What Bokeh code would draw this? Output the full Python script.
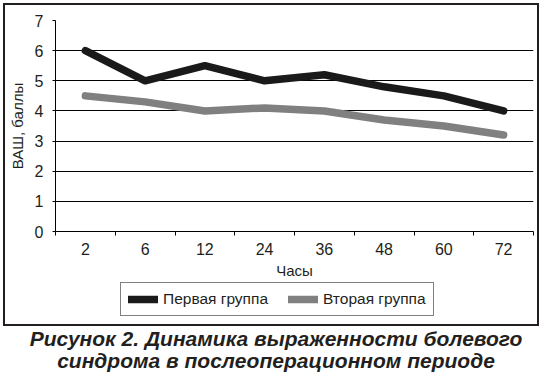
from bokeh.plotting import figure
from bokeh.models import (ColumnDataSource, FixedTicker, Legend, LegendItem, Range1d, Div)
from bokeh.layouts import column
from bokeh.embed import file_html
from bokeh.resources import INLINE

hours = ["2", "6", "12", "24", "36", "48", "60", "72"]
group1 = [6.0, 5.0, 5.5, 5.0, 5.2, 4.8, 4.5, 4.0]
group2 = [4.5, 4.3, 4.0, 4.1, 4.0, 3.7, 3.5, 3.2]
y_ticks = [0, 1, 2, 3, 4, 5, 6, 7]
series_names = ["Первая группа", "Вторая группа"]
y_label = "ВАШ, баллы"
x_label = "Часы"
caption = ["Рисунок 2. Динамика выраженности болевого",
           "синдрома в послеоперационном периоде"]

FONT = "Liberation Sans"
TXT = "#231f20"
C1, C2 = "#1a1a1a", "#808080"
LW = 7.5

x = [i + 0.5 for i in range(len(hours))]
src = ColumnDataSource(dict(x=x, g1=group1, g2=group2))

# ---- main chart ----
p = figure(width=532, height=276,
           x_range=Range1d(0, len(hours)), y_range=Range1d(y_ticks[0], y_ticks[-1]),
           output_backend="svg", toolbar_location=None,
           min_border_left=45, min_border_right=4, min_border_top=15, min_border_bottom=49)
p.outline_line_color = None
p.background_fill_color = "white"
p.border_fill_color = "white"

p.line("x", "g1", source=src, line_color=C1, line_width=LW, line_cap="round", line_join="round")
p.line("x", "g2", source=src, line_color=C2, line_width=LW, line_cap="round", line_join="round")

xa = p.xaxis[0]
xa.ticker = FixedTicker(ticks=x, minor_ticks=list(range(len(hours) + 1)))
xa.major_label_overrides = {xi: h for xi, h in zip(x, hours)}
xa.major_tick_line_color = None
xa.major_tick_out = 0
xa.major_tick_in = 0
xa.minor_tick_in = 0
xa.minor_tick_out = 4
xa.minor_tick_line_color = "black"
xa.axis_line_color = "black"
xa.major_label_standoff = 7
xa.major_label_text_font = FONT
xa.major_label_text_font_size = "16px"
xa.major_label_text_color = TXT
xa.axis_label = x_label
xa.axis_label_text_font = FONT
xa.axis_label_text_font_style = "normal"
xa.axis_label_text_font_size = "15px"
xa.axis_label_text_color = TXT
xa.axis_label_standoff = 4

ya = p.yaxis[0]
ya.ticker = FixedTicker(ticks=y_ticks)
ya.major_tick_out = 3
ya.major_tick_in = 0
ya.minor_tick_line_color = None
ya.axis_line_color = "black"
ya.major_label_standoff = 9
ya.major_label_text_font = FONT
ya.major_label_text_font_size = "16px"
ya.major_label_text_color = TXT
ya.axis_label = y_label
ya.axis_label_text_font = FONT
ya.axis_label_text_font_style = "normal"
ya.axis_label_text_font_size = "15px"
ya.axis_label_text_color = TXT
ya.axis_label_standoff = 6

p.xgrid.visible = False
p.ygrid.ticker = FixedTicker(ticks=y_ticks)
p.ygrid.grid_line_color = "black"
p.ygrid.grid_line_width = 1
p.ygrid.grid_line_alpha = 1

# ---- legend strip (series styled identically; data lies outside its view) ----
q = figure(width=532, height=43, x_range=Range1d(0, 1), y_range=Range1d(-2, -1),
           x_axis_location=None, y_axis_location=None,
           output_backend="svg", toolbar_location=None,
           min_border_left=0, min_border_right=0, min_border_top=0, min_border_bottom=0)
q.grid.visible = False
q.outline_line_color = None
q.background_fill_color = "white"
q.border_fill_color = "white"
l1 = q.line("x", "g1", source=src, line_color=C1, line_width=LW, line_cap="round")
l2 = q.line("x", "g2", source=src, line_color=C2, line_width=LW, line_cap="round")

legend = Legend(items=[LegendItem(label=series_names[0], renderers=[l1]),
                       LegendItem(label=series_names[1], renderers=[l2])],
                orientation="horizontal", location=(65, 8),
                border_line_color="black", border_line_width=1,
                glyph_width=30, glyph_height=16, label_height=16,
                label_standoff=5, spacing=20, padding=7, margin=0,
                label_text_font=FONT, label_text_font_size="15.5px",
                label_text_color=TXT, background_fill_alpha=1)
q.add_layout(legend)

boxed = column(p, q, spacing=0, styles={"border": "2px solid #231f20"})

cap = Div(text="<br>".join(caption), width=536,
          styles={"font-family": FONT, "font-weight": "bold", "font-style": "italic",
                  "font-size": "21px", "line-height": "22px", "color": TXT,
                  "text-align": "center", "width": "536px", "margin-top": "2px"})

layout = column(boxed, cap, spacing=0,
                styles={"margin-left": "3px", "margin-top": "3px"})
open("out.html", "w").write(file_html(layout, INLINE))
